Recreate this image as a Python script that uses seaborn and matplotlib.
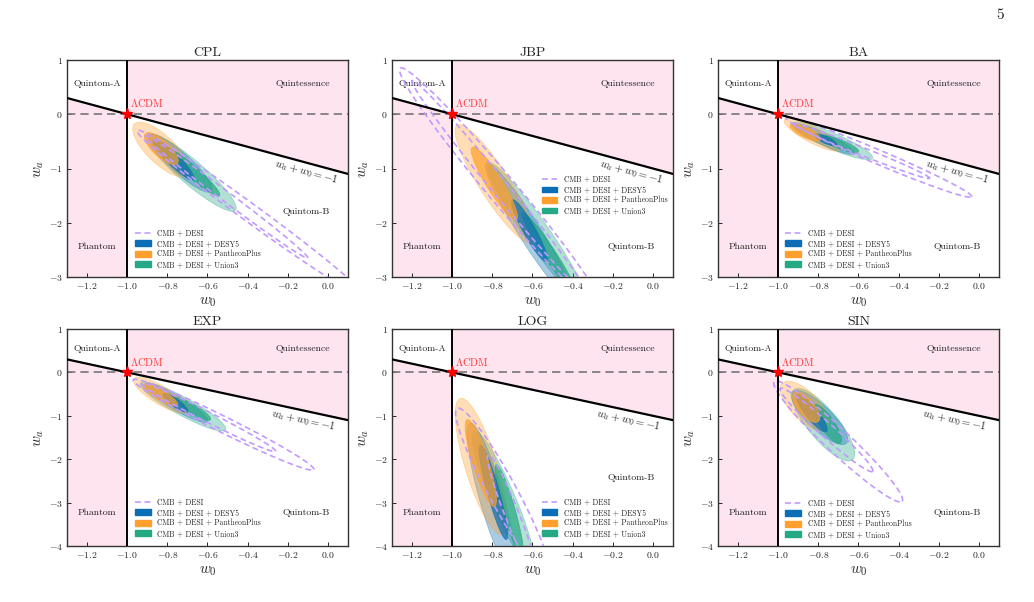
import numpy as np
import matplotlib
matplotlib.use('Agg')
import matplotlib.pyplot as plt
import seaborn as sns
from matplotlib.lines import Line2D
from matplotlib.patches import Patch

# --- DATA ---
MODELS = ["CPL", "JBP", "BA", "EXP", "LOG", "SIN"]
DATASETS = ["CMB + DESI", "CMB + DESI + DESY5", "CMB + DESI + PantheonPlus", "CMB + DESI + Union3"]
W0_TICKS = [-1.2, -1.0, -0.8, -0.6, -0.4, -0.2, 0.0]
WA_LIMITS = [(-3, 1), (-3, 1), (-3, 1), (-4, 1), (-4, 1), (-4, 1)]
LCDM = (-1.0, 0.0)

# contour ellipses: (w0 tip1, wa tip1, w0 tip2, wa tip2, half width px)
# first entry = 68% contour, second = 95% contour
CPL_DESI = [(-0.91, -0.40, -0.10, -2.65, 5), (-0.95, -0.30, 0.18, -3.35, 9)]
CPL_DESY5 = [(-0.87, -0.47, -0.67, -1.20, 6), (-0.89, -0.38, -0.58, -1.42, 10)]
CPL_PANTHEON = [(-0.91, -0.36, -0.75, -0.91, 8), (-0.964, -0.18, -0.70, -1.12, 14)]
CPL_UNION3 = [(-0.82, -0.60, -0.54, -1.50, 6), (-0.90, -0.38, -0.46, -1.77, 12)]

JBP_DESI = [(-1.20, 0.62, -0.33, -3.30, 8), (-1.26, 0.85, -0.25, -3.60, 14)]
JBP_DESY5 = [(-0.70, -1.58, -0.53, -2.71, 6), (-0.83, -0.90, -0.40, -3.42, 11)]
JBP_PANTHEON = [(-0.90, -0.61, -0.68, -1.94, 8), (-0.976, -0.20, -0.60, -2.37, 15)]
JBP_UNION3 = [(-0.65, -1.82, -0.385, -3.30, 6), (-0.82, -0.90, -0.33, -3.50, 12)]

BA_DESI = [(-0.93, -0.17, -0.245, -1.18, 4), (-0.96, -0.07, -0.036, -1.52, 7)]
BA_DESY5 = [(-0.82, -0.38, -0.71, -0.56, 3.5), (-0.92, -0.20, -0.62, -0.72, 6)]
BA_PANTHEON = [(-0.94, -0.20, -0.79, -0.47, 5), (-0.97, -0.10, -0.69, -0.65, 8)]
BA_UNION3 = [(-0.79, -0.41, -0.60, -0.69, 4.5), (-0.935, -0.17, -0.53, -0.81, 8)]

EXP_DESI = [(-0.93, -0.25, -0.26, -1.82, 5), (-0.97, -0.17, -0.07, -2.24, 8)]
EXP_DESY5 = [(-0.82, -0.50, -0.70, -0.90, 4), (-0.91, -0.27, -0.60, -1.13, 7)]
EXP_PANTHEON = [(-0.92, -0.29, -0.75, -0.75, 5), (-0.967, -0.15, -0.70, -0.90, 9)]
EXP_UNION3 = [(-0.76, -0.60, -0.585, -1.09, 4.5), (-0.935, -0.25, -0.51, -1.32, 9)]

LOG_DESI = [(-0.82, -1.90, -0.58, -4.70, 7), (-0.975, -0.83, -0.52, -4.70, 14)]
LOG_DESY5 = [(-0.86, -1.67, -0.73, -3.85, 6), (-0.91, -1.17, -0.70, -4.60, 12)]
LOG_PANTHEON = [(-0.925, -1.09, -0.79, -3.09, 8), (-0.96, -0.60, -0.75, -3.74, 16)]
LOG_UNION3 = [(-0.78, -2.13, -0.65, -4.28, 6), (-0.89, -1.36, -0.60, -4.50, 12)]

SIN_DESI = [(-0.99, -0.37, -0.53, -2.28, 7), (-1.02, -0.21, -0.383, -2.97, 12)]
SIN_DESY5 = [(-0.905, -0.52, -0.76, -1.36, 6), (-0.93, -0.44, -0.66, -1.63, 12)]
SIN_PANTHEON = [(-0.92, -0.48, -0.80, -1.13, 8), (-0.98, -0.25, -0.756, -1.29, 14)]
SIN_UNION3 = [(-0.82, -0.75, -0.69, -1.63, 7), (-0.92, -0.40, -0.63, -2.01, 15)]

CONTOURS = {
    "CPL": [CPL_DESI, CPL_DESY5, CPL_PANTHEON, CPL_UNION3],
    "JBP": [JBP_DESI, JBP_DESY5, JBP_PANTHEON, JBP_UNION3],
    "BA": [BA_DESI, BA_DESY5, BA_PANTHEON, BA_UNION3],
    "EXP": [EXP_DESI, EXP_DESY5, EXP_PANTHEON, EXP_UNION3],
    "LOG": [LOG_DESI, LOG_DESY5, LOG_PANTHEON, LOG_UNION3],
    "SIN": [SIN_DESI, SIN_DESY5, SIN_PANTHEON, SIN_UNION3],
}

# --- STYLE ---
sns.set_style("ticks")
plt.rcParams['font.family'] = ['cmr10', 'DejaVu Serif']
plt.rcParams['mathtext.fontset'] = 'cm'
plt.rcParams['axes.formatter.use_mathtext'] = True
plt.rcParams['axes.unicode_minus'] = True

PINK = '#fde4ee'
DASH_COLOR = '#c299ff'
FILL_COLORS = ['#0a6db5', '#ff9f2e', '#25a884']   # DESY5, PantheonPlus, Union3
XLIM = (-1.3, 0.1)

FIG_W, FIG_H = 10.34, 6.02
AX_W_PX, AX_H_PX = 281, 217
AX_LEFTS = [67, 392, 718]
AX_TOPS = [60, 329]
LEGEND_ANCHORS = [(0.243, 0.037), (0.534, 0.285), (0.24, 0.037),
                  (0.243, 0.037), (0.534, 0.037), (0.24, 0.033)]
QUINTOM_B_Y = [-1.8, -2.44, -2.44, -3.24, -2.43, -3.24]
PHANTOM_Y = [-2.44, -2.44, -2.44, -3.24, -3.24, -3.24]


def ellipse_xy(spec, ylim):
    # ellipse through two tips with a half width given in pixels
    x1, y1, x2, y2, hw = spec
    sx = AX_W_PX / (XLIM[1] - XLIM[0])
    sy = AX_H_PX / (ylim[1] - ylim[0])
    p1 = np.array([x1 * sx, y1 * sy])
    p2 = np.array([x2 * sx, y2 * sy])
    c = (p1 + p2) / 2
    u = (p2 - p1) / 2
    n = np.array([-u[1], u[0]]) / np.hypot(*u) * hw
    t = np.linspace(0, 2 * np.pi, 240)
    pts = c + np.outer(np.cos(t), u) + np.outer(np.sin(t), n)
    return pts[:, 0] / sx, pts[:, 1] / sy


fig = plt.figure(figsize=(FIG_W, FIG_H), dpi=100)

for i, model in enumerate(MODELS):
    row, col = divmod(i, 3)
    ylim = WA_LIMITS[i]
    left = AX_LEFTS[col] / (FIG_W * 100)
    bottom = 1 - (AX_TOPS[row] + AX_H_PX) / (FIG_H * 100)
    ax = fig.add_axes([left, bottom, AX_W_PX / (FIG_W * 100), AX_H_PX / (FIG_H * 100)])

    # regions
    xq = np.array([-1.0, XLIM[1]])
    ax.fill_between(xq, -1 - xq, ylim[1], color=PINK, lw=0, zorder=0)
    xp = np.array([XLIM[0], -1.0])
    ax.fill_between(xp, ylim[0], -1 - xp, color=PINK, lw=0, zorder=0)

    # filled contours: Union3, DESY5, PantheonPlus
    sets = CONTOURS[model]
    for k in [3, 1, 2]:
        color = FILL_COLORS[k - 1]
        inner, outer = sets[k]
        xo, yo = ellipse_xy(outer, ylim)
        ax.fill(xo, yo, facecolor=color, alpha=0.35, edgecolor=color, lw=0.6, zorder=2)
        xi, yi = ellipse_xy(inner, ylim)
        ax.fill(xi, yi, facecolor=color, alpha=0.7, edgecolor=color, lw=0.6, zorder=3)

    # CMB + DESI dashed contours
    for spec in sets[0]:
        xd, yd = ellipse_xy(spec, ylim)
        ax.plot(xd, yd, color=DASH_COLOR, ls='--', lw=1.2, dashes=(3.5, 2.2), zorder=4)

    # reference lines
    ax.axhline(0, color='#777777', ls='--', lw=1.2, dashes=(5, 3), zorder=1)
    ax.axvline(-1.0, color='black', lw=1.4, zorder=5)
    w0_line = np.array(XLIM)
    sns.lineplot(x=w0_line, y=-1 - w0_line, color='black', lw=1.6, ax=ax, zorder=5)
    ax.plot(*LCDM, marker='*', color='red', ms=8, zorder=6)
    ax.text(-0.985, 0.09, r'$\Lambda$CDM', color='#ff3b3b', fontsize=7.5, ha='left', va='bottom')
    ax.text(-0.105 if row == 0 else -0.12, -1.06 if row == 0 else -1.09, r'$w_a + w_0 = -1$',
            rotation=-45, transform_rotates_text=True, rotation_mode='anchor',
            ha='center', va='center', fontsize=8)

    # region labels
    qa_y = 0.56 if row == 0 else 0.555
    ax.text(-1.15, qa_y, 'Quintom-A', fontsize=7, ha='center', va='center', color='#222222')
    ax.text(-0.125, qa_y, 'Quintessence', fontsize=7, ha='center', va='center', color='#222222')
    ax.text(-0.11, QUINTOM_B_Y[i], 'Quintom-B', fontsize=7, ha='center', va='center', color='#222222')
    ax.text(-1.15, PHANTOM_Y[i], 'Phantom', fontsize=7, ha='center', va='center', color='#222222')

    ax.set_xlim(XLIM)
    ax.set_ylim(ylim)
    ax.set_xticks(W0_TICKS)
    ax.set_yticks(list(range(ylim[0], ylim[1] + 1)))
    ax.tick_params(direction='in', length=3, width=0.7, labelsize=7, pad=3)
    for s in ax.spines.values():
        s.set_linewidth(1.0)
        s.set_color('#333333')
    ax.set_xlabel(r'$w_0$', fontsize=11, labelpad=3)
    ax.set_ylabel(r'$w_a$', fontsize=11, labelpad=2)
    ax.set_title(model, fontsize=10, pad=3)

    handles = [Line2D([], [], color=DASH_COLOR, ls='--', lw=1.2, dashes=(3.5, 2.2))]
    handles += [Patch(facecolor=c, edgecolor=c) for c in FILL_COLORS]
    ax.legend(handles, DATASETS, loc='lower left', bbox_to_anchor=LEGEND_ANCHORS[i],
              frameon=False, fontsize=5.5, handlelength=2.0, handleheight=0.8,
              handletextpad=0.9, labelspacing=0.27, borderpad=0, borderaxespad=0)

fig.text(0.967, 0.975, '5', fontsize=11, ha='center', va='center')

fig.savefig('out.png', dpi=100)
